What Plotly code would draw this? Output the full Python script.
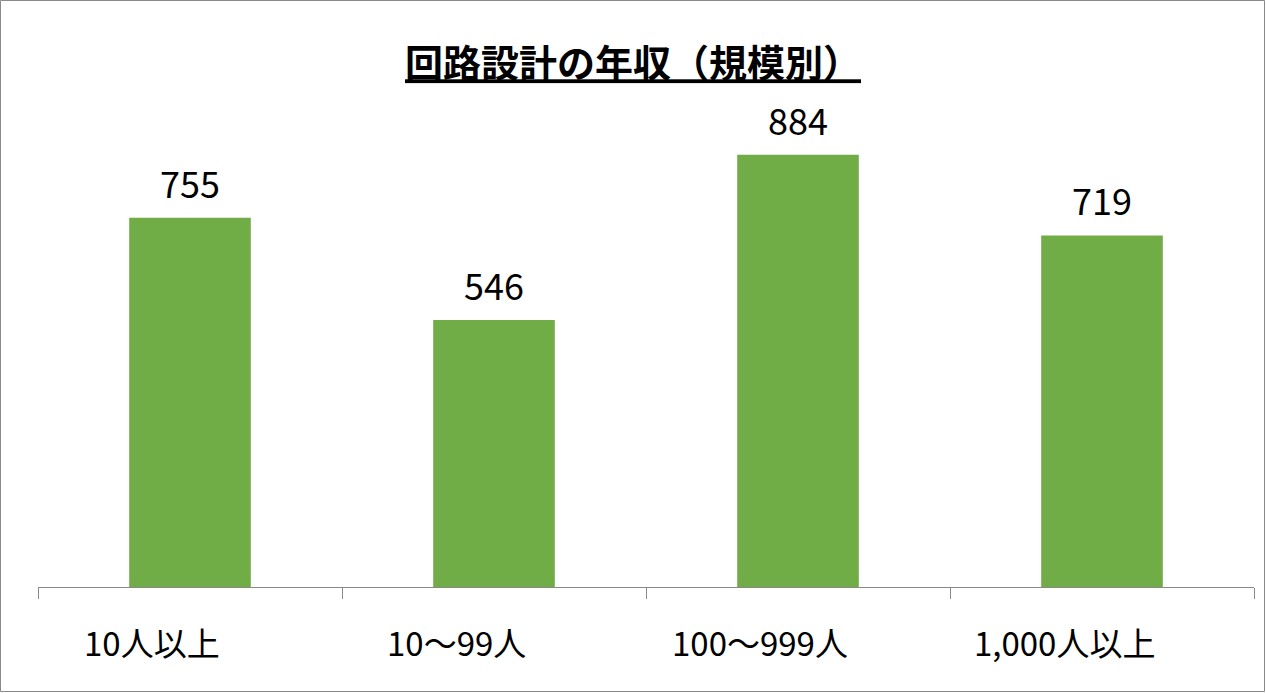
import plotly.graph_objects as go

categories = ['10人以上', '10～99人', '100～999人', '1,000人以上']
salaries = [755, 546, 884, 719]

W, H = 1266, 693
L, R, T, B = 38, 12, 98, 106
pw, ph = W - L - R, H - T - B

font = 'Noto Sans CJK JP'

fig = go.Figure()
fig.add_trace(go.Bar(
    x=categories, y=salaries,
    marker=dict(color='#70AD47', line=dict(width=0)),
    width=0.4,
))

# value labels above the bars
for cat, val in zip(categories, salaries):
    fig.add_annotation(
        x=cat, y=val, text=str(val), showarrow=False,
        yanchor='bottom', yshift=8,
        font=dict(family=font, size=36, color='#000000'),
    )

# category labels (sit a bit left of the category centre, like the original)
for cat in categories:
    fig.add_annotation(
        x=cat, y=0, yref='y', text=cat, showarrow=False,
        yanchor='middle', yshift=-55, xshift=-38,
        font=dict(family=font, size=33, color='#000000'),
    )

fig.update_layout(
    width=W, height=H,
    margin=dict(l=L, r=R, t=T, b=B),
    paper_bgcolor='white', plot_bgcolor='white',
    showlegend=False,
    title=dict(
        text='<u>回路設計の年収（規模別）</u>',
        x=0.5, xanchor='center', y=1 - 64 / H, yanchor='middle',
        font=dict(family=font, size=38, color='#000000', weight='bold'),
    ),
    xaxis=dict(
        showline=True, linecolor='#898989', linewidth=1,
        ticks='outside', tickson='boundaries', ticklen=11, tickcolor='#898989',
        showticklabels=False,
        showgrid=False,
    ),
    yaxis=dict(range=[0, 1000], visible=False, showgrid=False),
)

# chart border
fig.add_shape(
    type='rect', xref='paper', yref='paper',
    x0=-L / pw + 0.5 / pw, x1=1 + R / pw - 1.5 / pw,
    y0=-B / ph + 1.5 / ph, y1=1 + T / ph - 0.5 / ph,
    line=dict(color='#898989', width=1),
)

fig.write_html('out.html', config={'displayModeBar': False},
               post_script="document.body.style.margin='0';")
